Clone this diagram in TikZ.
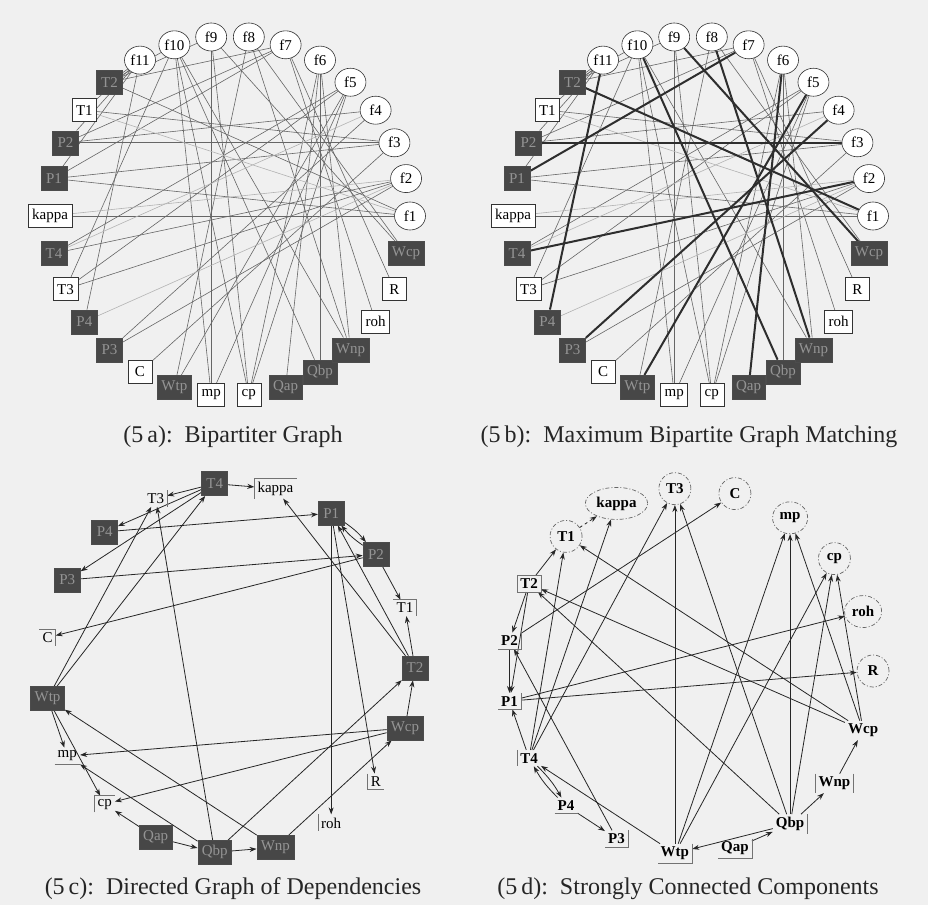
\documentclass[tikz,border=0pt]{standalone}
\usepackage{fontspec}
\setmainfont{Liberation Serif}
\usetikzlibrary{shapes.geometric,arrows.meta}
\pgfdeclarelayer{bg}
\pgfdeclarelayer{edges}
\pgfsetlayers{bg,edges,main}
\newcommand\lblfont{\fontsize{15}{17}\selectfont}
\newcommand\capfont{\fontsize{24}{27}\selectfont}
\tikzset{
  fnode/.style={ellipse,draw=black!80,fill=white,line width=0.6pt,inner sep=1pt,minimum width=31pt,minimum height=28pt,font=\lblfont},
  dnode/.style={rectangle,draw=black!70,fill=black!72,text=black!42,line width=0.5pt,inner xsep=4pt,inner ysep=3pt,minimum height=24pt,minimum width=26pt,font=\lblfont},
  lnode/.style={rectangle,draw=black!80,fill=white,line width=0.6pt,inner xsep=4pt,inner ysep=3pt,minimum height=23pt,minimum width=24pt,font=\lblfont},
  tnode/.style={inner xsep=3pt,inner ysep=3pt,font=\lblfont},
  enode/.style={ellipse,draw=black!60,line width=0.7pt,dash pattern=on 4pt off 2pt on 1pt off 2pt,inner sep=2pt,minimum height=32pt,minimum width=32pt,font=\lblfont\bfseries},
  bnode/.style={inner xsep=3pt,inner ysep=3pt,font=\lblfont\bfseries},
  bip/.style={draw=black!60,line width=0.6pt},
  bipl/.style={draw=black!30,line width=0.6pt},
  match/.style={draw=black!82,line width=2pt},
  dep/.style={draw=black!85,line width=0.8pt,-{Stealth[length=7pt,width=5pt]}},
  brk/.style={draw=black!55,line width=0.6pt},
  captext/.style={font=\capfont,text=black!85},
}
\begin{document}
\begin{tikzpicture}[x=1pt,y=-1pt]
\begin{pgfonlayer}{bg}
\fill[black!6] (0,0) rectangle (928,905);
\end{pgfonlayer}
\useasboundingbox (0,0) rectangle (928,905);

% ---------- panels a and b: bipartite graphs ----------
\foreach \p/\cx in {a/230,b/693}{
  \foreach \n/\k in {f1/0,f2/1,f3/2,f4/3,f5/4,f6/5,f7/6,f8/7,f9/8,f10/9,f11/10}
    \node[fnode] (\p-\n) at ({\cx+180*cos(12*\k)},{216-180*sin(12*\k)}) {\n};
  \foreach \n/\k in {T2/11,P2/13,P1/14,T4/16,P4/18,P3/19,Wtp/21,Qap/24,Qbp/25,Wnp/26,Wcp/29}
    \node[dnode] (\p-\n) at ({\cx+180*cos(12*\k)},{216-180*sin(12*\k)}) {\n};
  \foreach \n/\k in {T1/12,kappa/15,T3/17,C/20,mp/22,cp/23,roh/27,R/28}
    \node[lnode] (\p-\n) at ({\cx+180*cos(12*\k)},{216-180*sin(12*\k)}) {\n};
}
\begin{pgfonlayer}{edges}
\foreach \p in {a,b}{
  \foreach \f/\v in {f1/T2,f1/kappa,f1/P1,f2/T4,f2/T3,f2/P3,f3/P2,f3/C,f3/T1,f3/P1,
                     f4/P3,f4/P2,f5/Wtp,f5/T4,f5/T3,f5/mp,f5/cp,f6/Qap,f6/Qbp,f6/cp,f6/Wnp,
                     f7/P1,f7/roh,f7/R,f7/P2,f7/T2,f8/Wnp,f8/Wcp,f8/Wtp,f9/Wcp,f9/T2,f9/mp,f9/cp,
                     f10/Qbp,f10/T3,f10/T2,f10/Wnp,f10/mp,f10/cp,f11/P4,f11/P1,f11/T1,f11/T2,f11/P2}
    \draw[bip] (\p-\f) -- (\p-\v);
  \foreach \f/\v in {f1/T1,f2/kappa,f2/P4,f4/T4}
    \draw[bipl] (\p-\f) -- (\p-\v);
}
\foreach \f/\v in {f1/T2,f2/T4,f3/P2,f4/P3,f5/Wtp,f6/Qap,f7/P1,f8/Wnp,f9/Wcp,f10/Qbp,f11/P4}
  \draw[match] (b-\f) -- (b-\v);
\end{pgfonlayer}

% ---------- panel c: directed graph of dependencies ----------
\foreach \n/\k in {T2/0,P2/2,P1/3,T4/5,P4/7,P3/8,Wtp/10,Qap/13,Qbp/14,Wnp/15,Wcp/18}
  \node[dnode] (c-\n) at ({230+185*cos(360/19*\k)},{668-185*sin(360/19*\k)}) {\n};
\foreach \n/\k in {T1/1,kappa/4,T3/6,C/9,mp/11,cp/12,roh/16,R/17}
  \node[tnode] (c-\n) at ({230+185*cos(360/19*\k)},{668-185*sin(360/19*\k)}) {\n};
\draw[brk] (c-kappa.south west) -- (c-kappa.north west) -- (c-kappa.north east);
\draw[brk] (c-T3.north east) -- (c-T3.south east);
\draw[brk] (c-C.north west) -- (c-C.north east) -- (c-C.south east);
\draw[brk] (c-T1.north west) -- (c-T1.north east) -- (c-T1.south east);
\draw[brk] (c-mp.south west) -- (c-mp.south east);
\draw[brk] (c-cp.south west) -- (c-cp.north west) -- (c-cp.north east);
\draw[brk] (c-R.north west) -- (c-R.south west) -- (c-R.south east);
\draw[brk] (c-roh.north west) -- (c-roh.south west);
\begin{pgfonlayer}{edges}
\foreach \u/\v in {T4/kappa,T4/T3,T4/P4,T4/P3,P3/P2,Wtp/T4,Wtp/T3,Wtp/mp,Wtp/cp,Qap/Qbp,Qap/cp,
                   P1/roh,P1/R,Wnp/Wcp,Wnp/Wtp,Wcp/T2,Wcp/mp,Wcp/cp,Qbp/T3,Qbp/T2,Qbp/Wnp,Qbp/mp,
                   P4/P1,P2/C,P2/T1,T2/kappa,T2/P1,T2/T1}
  \draw[dep] (c-\u) -- (c-\v);
\draw[dep] (c-P1) to[bend left=8] (c-P2);
\draw[dep] (c-P2) to[bend left=8] (c-P1);
\end{pgfonlayer}

% ---------- panel d: strongly connected components ----------
\foreach \n/\k in {R/0,roh/1,cp/2,mp/3,C/4,T3/5,kappa/6,T1/7}
  \node[enode] (d-\n) at ({690+183*cos(360/19*\k)},{671-183*sin(360/19*\k)}) {\n};
\foreach \n/\k in {T2/8,P2/9,P1/10,T4/11,P4/12,P3/13,Wtp/14,Qap/15,Qbp/16,Wnp/17,Wcp/18}
  \node[bnode] (d-\n) at ({690+183*cos(360/19*\k)},{671-183*sin(360/19*\k)}) {\n};
\draw[brk] (d-T2.north west) rectangle (d-T2.south east);
\draw[brk] (d-P2.north east) -- (d-P2.south east) -- (d-P2.south west);
\draw[brk] (d-P1.north east) -- (d-P1.south east) -- (d-P1.south west);
\draw[brk] (d-T4.north west) -- (d-T4.south west);
\draw[brk] (d-P4.south west) -- (d-P4.south east);
\draw[brk] (d-P3.north east) -- (d-P3.south east) -- (d-P3.south west);
\draw[brk] (d-Wtp.north east) -- (d-Wtp.south east) -- (d-Wtp.south west);
\draw[brk] (d-Qap.north east) -- (d-Qap.south east) -- (d-Qap.south west);
\draw[brk] (d-Qbp.north east) -- (d-Qbp.south east);
\draw[brk] (d-Wnp.north west) -- (d-Wnp.south west);
\draw[brk] (d-Wnp.north east) -- (d-Wnp.south east);
\begin{pgfonlayer}{edges}
\foreach \u/\v in {T2/T1,T4/T1,T2/P2,P2/P1,T2/P1,P2/C,P1/roh,P1/R,T4/P1,T4/kappa,T4/T3,Wtp/T4,
                   P4/P3,P3/P2,Wtp/T3,Wtp/mp,Wtp/cp,Qbp/Wtp,Qap/Qbp,Qbp/T3,Qbp/mp,Qbp/cp,
                   Qbp/Wnp,Qbp/T2,Wnp/Wcp,Wcp/T1,Wcp/T2,Wcp/cp,Wcp/mp}
  \draw[dep] (d-\u) -- (d-\v);
\draw[dep] (d-T4) to[bend left=8] (d-P4);
\draw[dep] (d-P4) to[bend left=8] (d-T4);
\draw[dep,dashed] (d-T1) -- (d-kappa);
\end{pgfonlayer}

% ---------- captions ----------
\node[captext] (capa) at (233,437) {(5\,a):\ \ Bipartiter Graph};
\node[captext] (capb) at (689,437) {(5\,b):\ \ Maximum Bipartite Graph Matching};
\node[captext] (capc) at (233,889) {(5\,c):\ \ Directed Graph of Dependencies};
\node[captext] (capd) at (688,889) {(5\,d):\ \ Strongly Connected Components};
\end{tikzpicture}
\end{document}
